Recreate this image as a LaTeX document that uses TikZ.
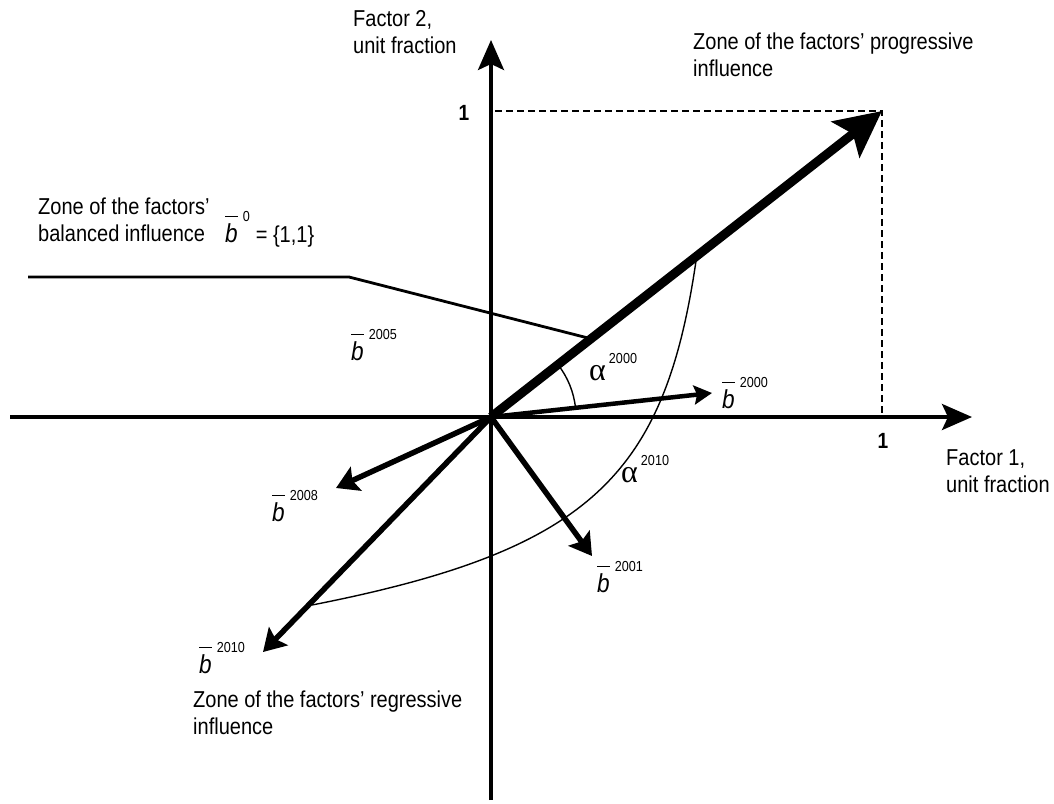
\documentclass[tikz,border=0pt]{standalone}
\usepackage{fontspec}
\setmainfont{Liberation Sans}[FakeStretch=0.87]
\newfontfamily\greekfont{Liberation Serif}
\usetikzlibrary{arrows.meta}
\newcommand{\supsize}{\fontsize{14.5}{14.5}\selectfont}
\newcommand{\bvec}[1]{\rlap{\raisebox{25pt}{\rule{13pt}{1.4pt}}}{\fontsize{26}{26}\selectfont\textit{b}}\hspace{5pt}\raisebox{21pt}{\supsize #1}}
\newcommand{\avec}[1]{{\greekfont\fontsize{32}{32}\selectfont α}\hspace{3pt}\raisebox{17pt}{\supsize #1}}

\begin{document}
\begin{tikzpicture}[x=1pt, y=-1pt, every node/.style={font=\fontsize{23}{27}\selectfont, inner sep=0pt},
    axis/.style={line width=3.5pt, -{Stealth[length=30pt, width=26pt, inset=6pt]}},
    vec/.style={line width=5.5pt, -{Stealth[length=22pt, width=26pt, inset=4pt]}},
    lbl/.style={anchor=base west},
    zone/.style={anchor=north west, align=left},
    unit/.style={anchor=base, font=\fontsize{22}{22}\selectfont\bfseries}]
    \useasboundingbox (0,0) rectangle (1054,803);
    % Points
    \coordinate (O) at (491,417);
    \coordinate (xs) at (10,417);
    \coordinate (xe) at (972,417);
    \coordinate (ys) at (491,800);
    \coordinate (ye) at (491,40);
    \coordinate (u) at (882,111);
    \coordinate (ux) at (882,417);
    \coordinate (uy) at (495,111);
    \coordinate (b2000) at (712,393);
    \coordinate (b2008) at (336,488);
    \coordinate (b2001) at (592,556);
    \coordinate (b2010) at (263,652);
    \coordinate (zs) at (28,277);
    \coordinate (zk) at (349,277);
    \coordinate (ze) at (588,338);
    % Axes
    \draw[axis] (xs) -- (xe);
    \draw[axis] (ys) -- (ye);
    \draw[line width=1.5pt, dash pattern=on 7pt off 4pt] (uy) -- (u) -- (ux);
    % Vectors
    \draw[line width=9pt, -{Stealth[length=46pt, width=45pt, inset=9pt]}] (O) -- (u);
    \draw[line width=4.5pt, -{Stealth[length=18pt, width=19pt, inset=3pt]}] (O) -- (b2000);
    \draw[vec] (O) -- (b2008);
    \draw[vec] (O) -- (b2001);
    \draw[vec] (O) -- (b2010);
    % Zone line and angles
    \draw[line width=2.8pt] (zs) -- (zk) -- (ze);
    \draw[line width=1.4pt] (O) ++(-6:85) arc[start angle=-6, end angle=-38, radius=85];
    \draw[line width=1.4pt] (697,254) .. controls (666,475) and (592,550) .. (312,605);
    % Labels
    \node[zone] (fac2) at (353,10) {Factor 2,\\unit fraction};
    \node[zone] (fac1) at (946,449) {Factor 1,\\unit fraction};
    \node[zone] (prog) at (693,33) {Zone of the factors' progressive\\influence};
    \node[zone] (bal) at (38,198) {Zone of the factors'\\balanced influence};
    \node[zone] (reg) at (193,691) {Zone of the factors' regressive\\influence};
    \node[lbl] (b0) at (225,242) {\bvec{0}\hspace{6pt}= \{1,1\}};
    \node[unit] (one2) at (464,120) {1};
    \node[unit] (one1) at (883,448) {1};
    \node[lbl] (l2005) at (351,360) {\bvec{2005}};
    \node[lbl] (l2000) at (722,408) {\bvec{2000}};
    \node[lbl] (l2008) at (272,521) {\bvec{2008}};
    \node[lbl] (l2001) at (597,592) {\bvec{2001}};
    \node[lbl] (l2010) at (199,673) {\bvec{2010}};
    \node[lbl] (a2000) at (589,380) {\avec{2000}};
    \node[lbl] (a2010) at (621,482) {\avec{2010}};
\end{tikzpicture}
\end{document}
